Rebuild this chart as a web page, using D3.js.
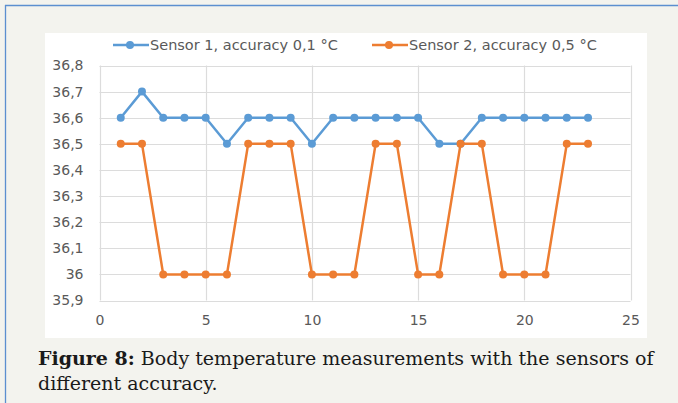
<!DOCTYPE html>
<html><head><meta charset="utf-8">
<script src="https://cdn.jsdelivr.net/npm/d3@7"></script>
<style>html,body{margin:0;padding:0;background:#f3f3ee;}svg{display:block;}</style>
</head><body>
<svg id="c" width="678" height="403"></svg>
<script>
const xValues = [1,2,3,4,5,6,7,8,9,10,11,12,13,14,15,16,17,18,19,20,21,22,23];
const sensor1 = [36.6,36.7,36.6,36.6,36.6,36.5,36.6,36.6,36.6,36.5,36.6,36.6,36.6,36.6,36.6,36.5,36.5,36.6,36.6,36.6,36.6,36.6,36.6];
const sensor2 = [36.5,36.5,36,36,36,36,36.5,36.5,36.5,36,36,36,36.5,36.5,36,36,36.5,36.5,36,36,36,36.5,36.5];
const seriesNames = ["Sensor 1, accuracy 0,1 °C", "Sensor 2, accuracy 0,5 °C"];
const seriesColors = ["#5b9bd5", "#ed7d31"];
const yTicks = [35.9,36,36.1,36.2,36.3,36.4,36.5,36.6,36.7,36.8];
const xTicks = [0,5,10,15,20,25];
const captionBold = "Figure 8:";
const captionRest = " Body temperature measurements with the sensors of";
const captionLine2 = "different accuracy.";

const svg = d3.select("#c");
// frame
svg.append("rect").attr("x",0).attr("y",0).attr("width",678).attr("height",403).attr("fill","#f3f3ee");
svg.append("line").attr("x1",5).attr("x2",678).attr("y1",5.5).attr("y2",5.5).attr("stroke","#5b8fd0").attr("stroke-width",1.3);
svg.append("line").attr("x1",5.5).attr("x2",5.5).attr("y1",5).attr("y2",403).attr("stroke","#5b8fd0").attr("stroke-width",1.3);
svg.append("rect").attr("x",45).attr("y",33).attr("width",602).attr("height",305).attr("fill","#ffffff");

const x = d3.scaleLinear().domain([0,25]).range([99.5,630.5]);
const y = d3.scaleLinear().domain([35.9,36.8]).range([300.5,65.5]);
const font = "'DejaVu Sans', sans-serif";

// grid
svg.append("g").selectAll("line").data(yTicks).join("line")
  .attr("x1",x(0)).attr("x2",x(25)).attr("y1",d=>Math.round(y(d))+0.5).attr("y2",d=>Math.round(y(d))+0.5)
  .attr("stroke","#dcdcdc").attr("stroke-width",1.2);
svg.append("g").selectAll("line").data(xTicks).join("line")
  .attr("x1",d=>Math.round(x(d))+0.5).attr("x2",d=>Math.round(x(d))+0.5).attr("y1",y(36.8)).attr("y2",y(35.9))
  .attr("stroke","#dcdcdc").attr("stroke-width",1.2);

// axes labels via d3 axes
const yAxis = svg.append("g").attr("transform",`translate(${x(0)},0)`)
  .call(d3.axisLeft(y).tickValues(yTicks).tickSize(0).tickPadding(16).tickFormat(d=>String(+d.toFixed(1)).replace(".",",")));
yAxis.select(".domain").remove();
yAxis.selectAll("text").attr("fill","#595959").style("font-family",font).style("font-size","14px");
const xAxis = svg.append("g").attr("transform",`translate(0,${y(35.9)})`)
  .call(d3.axisBottom(x).tickValues(xTicks).tickSize(0).tickPadding(15).tickFormat(d3.format("d")));
xAxis.select(".domain").remove();
xAxis.selectAll("text").attr("fill","#595959").style("font-family",font).style("font-size","14px");

// series
const series = [sensor1, sensor2];
const line = d3.line().x((d,i)=>x(xValues[i])).y(d=>y(d));
series.forEach((s,k)=>{
  svg.append("path").datum(s).attr("d",line).attr("fill","none").attr("stroke",seriesColors[k]).attr("stroke-width",2.5).attr("stroke-linejoin","round");
  svg.append("g").selectAll("circle").data(s).join("circle")
    .attr("cx",(d,i)=>x(xValues[i])).attr("cy",d=>y(d)).attr("r",4).attr("fill",seriesColors[k]);
});

// legend
const legendX = [113, 372];
seriesNames.forEach((n,k)=>{
  const g = svg.append("g").attr("transform",`translate(${legendX[k]},45)`);
  g.append("line").attr("x1",0).attr("x2",36).attr("y1",0).attr("y2",0).attr("stroke",seriesColors[k]).attr("stroke-width",2.5);
  g.append("circle").attr("cx",17).attr("cy",0).attr("r",4).attr("fill",seriesColors[k]);
  g.append("text").attr("x",37).attr("y",5).text(n).attr("fill","#595959").style("font-family",font).style("font-size","14.5px");
});

// caption
const cap = svg.append("text").attr("x",38).attr("y",365).style("font-family","'DejaVu Serif', serif").style("font-size","18.5px").attr("fill","#1a1a1a");
cap.append("tspan").attr("font-weight","bold").text(captionBold);
cap.append("tspan").text(captionRest);
const capLen = cap.node().getComputedTextLength();
const targetLen = 616;
const scaleX = targetLen / capLen;
cap.attr("transform",`translate(38,0) scale(${scaleX},1) translate(-38,0)`);
svg.append("text").attr("x",38).attr("y",390).style("font-family","'DejaVu Serif', serif").style("font-size","18.5px").attr("fill","#1a1a1a").text(captionLine2)
  .attr("transform",`translate(38,0) scale(${scaleX},1) translate(-38,0)`);
</script>
</body></html>
